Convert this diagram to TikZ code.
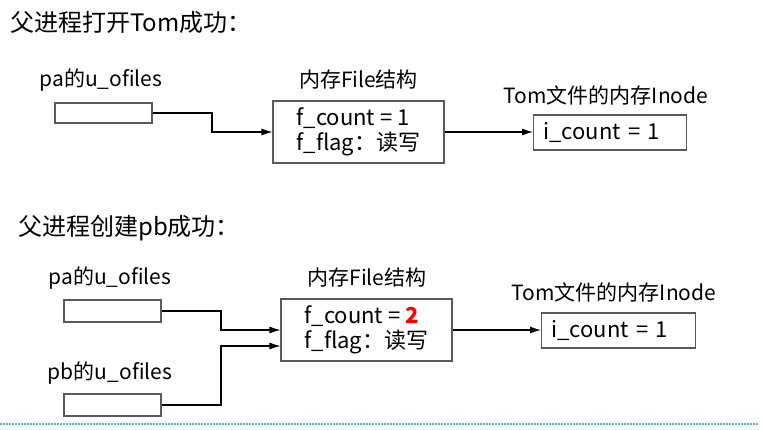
\documentclass[tikz,border=0pt]{standalone}
\usepackage{fontspec}
\setmainfont{Noto Sans CJK SC}
\usetikzlibrary{arrows.meta,calc}
\definecolor{boxgray}{RGB}{90,90,90}
\definecolor{dashblue}{RGB}{100,175,200}
\tikzset{
  title/.style={anchor=west,inner sep=0pt,font=\fontsize{24}{28}\selectfont},
  lbl/.style={inner sep=0pt,font=\fontsize{21}{24}\selectfont},
  cell/.style={draw=boxgray,line width=1.1pt,inner sep=0pt,font=\fontsize{22}{25}\selectfont},
  conn/.style={line width=1.1pt,-{Latex[length=11pt,width=7pt]}},
}
\begin{document}
\begin{tikzpicture}[x=1pt,y=-1pt]
\useasboundingbox (0,0) rectangle (764,429);
% part 1
\node[title] (t1) at (10,22) {父进程打开Tom成功：};
\node[lbl] (la1) at (101,80) {pa的u\_ofiles};
\node[cell,minimum width=97pt,minimum height=20pt] (pa1) at (103.5,113) {};
\node[lbl] (lf1) at (358.5,80) {内存File结构};
\node[cell,minimum width=171pt,minimum height=62pt,align=left] (f1) at (358.5,132) {f\_count = 1\\f\_flag：读写};
\node[lbl] (li1) at (606,95) {Tom文件的内存Inode};
\node[cell,minimum width=153pt,minimum height=35pt,anchor=west,text width=133pt] (i1) at (533,132.5) {i\_count = 1};
\coordinate (j1) at (212,113);
\draw[conn] (pa1.east) -- (j1) |- (f1.west);
\draw[conn] (f1.east) -- (f1.east -| i1.west);
% part 2
\node[title] (t2) at (18,228) {父进程创建pb成功：};
\node[lbl] (la2) at (110,278) {pa的u\_ofiles};
\node[cell,minimum width=97pt,minimum height=22pt] (pa2) at (112.5,311) {};
\node[lbl] (lb2) at (110,373) {pb的u\_ofiles};
\node[cell,minimum width=97pt,minimum height=22pt] (pb2) at (112.5,405) {};
\node[lbl] (lf2) at (367,278) {内存File结构};
\node[cell,minimum width=171pt,minimum height=62pt,align=left] (f2) at (366.5,330) {f\_count = {\bfseries\color{red}2}\\f\_flag：读写};
\node[lbl] (li2) at (614,292) {Tom文件的内存Inode};
\node[cell,minimum width=154pt,minimum height=35pt,anchor=west,text width=134pt] (i2) at (541,330.5) {i\_count = 1};
\coordinate (j2) at (221,311);
\coordinate (j3) at (221,405);
\coordinate (e2) at ($(f2.west)+(0,16)$);
\draw[conn] (pa2.east) -- (j2) |- (f2.west);
\draw[conn] (pb2.east) -- (j3) |- (e2);
\draw[conn] (f2.east) -- (f2.east -| i2.west);
% bottom rule
\draw[dashblue,line width=1.6pt,dash pattern=on 2pt off 1pt] (0,424) -- (758,424);
\end{tikzpicture}
\end{document}
